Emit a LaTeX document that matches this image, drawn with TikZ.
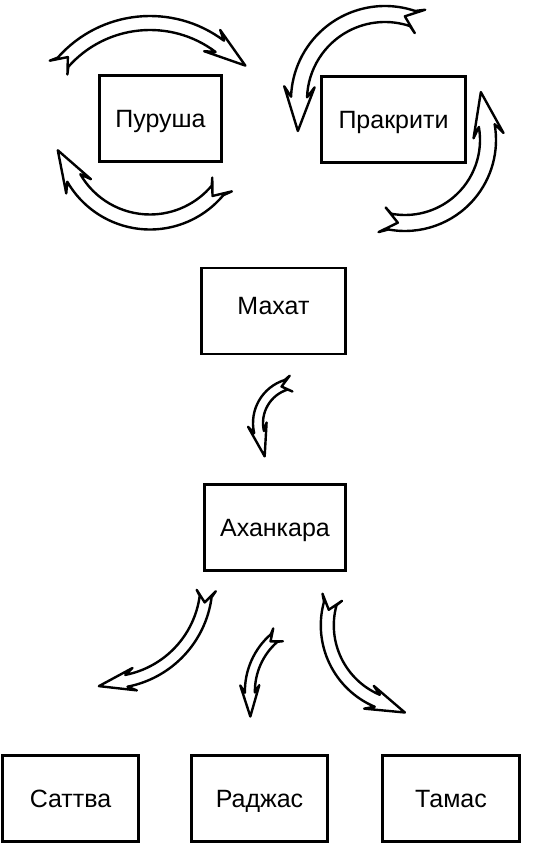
\documentclass[tikz,border=0pt]{standalone}
\usepackage{fontspec}
\setmainfont{Liberation Sans}
\usetikzlibrary{calc}

% hollow curved arrow along a circle:
% #1 centre, #2 radius, #3 tail angle, #4 head-base angle, #5 shaft width, #6 head length
\newcommand{\hollowarrow}[6]{%
  \pgfmathsetmacro{\aDir}{sign(#4-#3)}
  \pgfmathsetmacro{\aOut}{#2+#5/2}
  \pgfmathsetmacro{\aIn}{#2-#5/2}
  \pgfmathsetmacro{\aProngO}{#2+0.8*#5}
  \pgfmathsetmacro{\aProngI}{#2-0.8*#5}
  \pgfmathsetmacro{\aBarbO}{#2+0.95*#5}
  \pgfmathsetmacro{\aBarbI}{#2-0.95*#5}
  \pgfmathsetmacro{\aTail}{#3+\aDir*deg(0.5*#5/#2)}
  \pgfmathsetmacro{\aNotch}{#3+\aDir*deg(1.0*#5/#2)}
  \pgfmathsetmacro{\aTan}{#4+\aDir*90}
  \pgfmathsetmacro{\aBack}{-0.3*#6}
  \draw[arrowline]
    ($(#1)+(#3:\aProngO)$) -- ($(#1)+(\aTail:\aOut)$)
    arc[start angle=\aTail, end angle=#4, radius=\aOut]
    -- ($(#1)+(#4:\aBarbO)+(\aTan:\aBack)$)
    -- ($(#1)+(#4:#2)+(\aTan:#6)$)
    -- ($(#1)+(#4:\aBarbI)+(\aTan:\aBack)$)
    -- ($(#1)+(#4:\aIn)$)
    arc[start angle=#4, end angle=\aTail, radius=\aIn]
    -- ($(#1)+(#3:\aProngI)$)
    -- ($(#1)+(\aNotch:#2)$) -- cycle;
}

\begin{document}
\begin{tikzpicture}[x=1pt, y=1pt,
  box/.style={rectangle, draw, line width=2.6pt, inner sep=0pt,
    minimum width=141pt, minimum height=86pt,
    text height=18pt, text depth=0pt,
    font=\fontsize{25}{29}\selectfont},
  arrowline/.style={line width=2.4pt, line join=round, fill=white}
]
\useasboundingbox (0,0) rectangle (551,-845);

% Top row
\node[box, minimum width=122pt] (purusha) at (160.5,-118.5) {Пуруша};
\node[box, minimum width=144pt] (prakriti) at (393.5,-119.5) {Пракрити};

% Middle column
\node[box, minimum width=144pt, text depth=12pt] (mahat) at (273.5,-311) {Махат};
\node[box] (ahankara) at (275,-527.5) {Аханкара};

% Bottom row - the three gunas
\node[box, minimum width=136pt] (sattva) at (70.5,-798.5) {Саттва};
\node[box, minimum width=136pt] (rajas) at (259.5,-798.5) {Раджас};
\node[box, minimum width=137pt] (tamas) at (451,-798.5) {Тамас};

% Arrows round Purusha
\hollowarrow{150,-139}{116}{142}{53}{14}{32}
\hollowarrow{150,-134}{88}{-35}{-150}{15}{32}

% Arrows round Prakriti
\hollowarrow{385,-100}{86}{66}{178}{16}{34}
\hollowarrow{405,-140}{83}{-106}{10}{16}{34}

% Mahat to Ahankara
\hollowarrow{298,-423}{40}{100}{193}{10}{25}

% Ahankara to the gunas
\hollowarrow{107.5,-583.6}{99}{-4}{-79}{12}{28}
\hollowarrow{320.6,-691.3}{70.7}{127}{181}{10}{24}
\hollowarrow{409.3,-625.3}{82}{160}{247}{13}{30}

\end{tikzpicture}
\end{document}
